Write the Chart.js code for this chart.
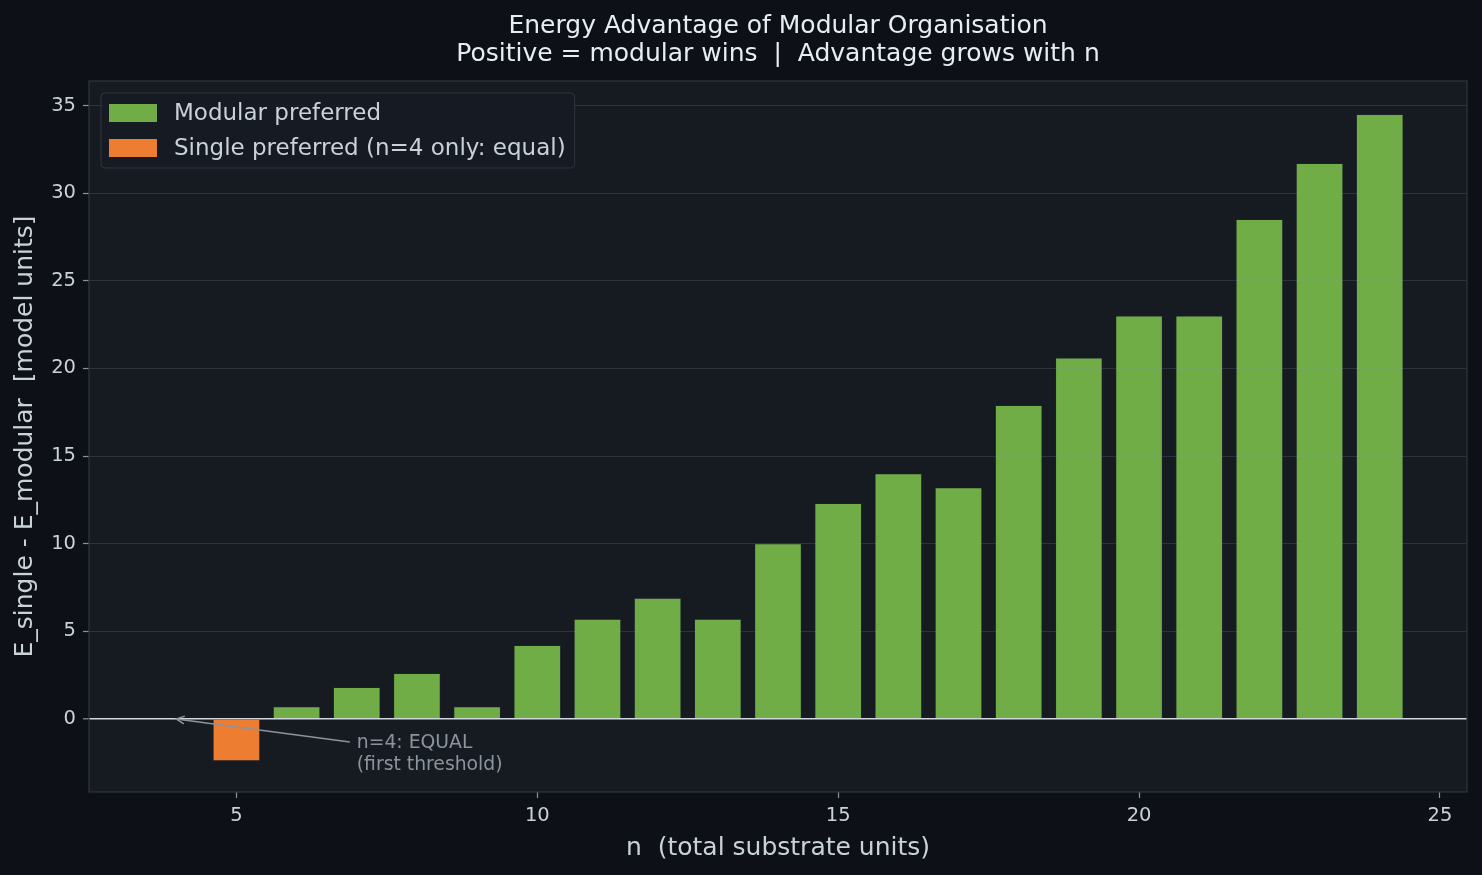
<!DOCTYPE html>
<html>
<head>
<meta charset="utf-8">
<script src="https://cdn.jsdelivr.net/npm/chart.js@4"></script>
<style>
  html, body { margin: 0; padding: 0; background: #0d1117; }
  #wrap { width: 1482px; height: 875px; }
</style>
</head>
<body>
<div id="wrap"><canvas id="chart-advantage"></canvas></div>
<script>
// values
const nValues = [5, 6, 7, 8, 9, 10, 11, 12, 13, 14, 15, 16, 17, 18, 19, 20, 21, 22, 23, 24];
const advantage = [-2.4, 0.7, 1.8, 2.6, 0.7, 4.2, 5.7, 6.9, 5.7, 10.0, 12.3, 14.0, 13.2, 17.9, 20.6, 23.0, 23.0, 28.5, 31.7, 34.5];
const xTicks = [5, 10, 15, 20, 25];
const yTicks = [0, 5, 10, 15, 20, 25, 30, 35];
const titleLines = ["Energy Advantage of Modular Organisation", "Positive = modular wins  |  Advantage grows with n"];
const legendLabels = ["Modular preferred", "Single preferred (n=4 only: equal)"];
const annotationLines = ["n=4: EQUAL", "(first threshold)"];

const GREEN = "#70ad47";
const ORANGE = "#ed7d31";
const FONT = "'DejaVu Sans', sans-serif";

let modularData = [];
let singleData = [];
nValues.forEach(function (n, i) {
  if (advantage[i] > 0) modularData.push({ x: n, y: advantage[i] });
  else singleData.push({ x: n, y: advantage[i] });
});

// plot background, frame, title over the plot, legend box and the n=4 note
const decorPlugin = {
  id: "decor",
  beforeDatasetsDraw(chart) {
    const a = chart.chartArea;
    const c = chart.ctx;
    c.save();
    c.fillStyle = "#161b22";
    c.fillRect(a.left, a.top, a.right - a.left, a.bottom - a.top);
    c.restore();
  },
  afterDraw(chart) {
    const a = chart.chartArea;
    const c = chart.ctx;
    const xs = chart.scales.x;
    const ys = chart.scales.y;
    c.save();
    c.strokeStyle = "#30363d";
    c.lineWidth = 1.2;
    c.strokeRect(a.left, a.top, a.right - a.left, a.bottom - a.top);

    // title, centred on the plot area
    c.fillStyle = "#e6edf3";
    c.font = "25px " + FONT;
    c.textAlign = "center";
    c.textBaseline = "middle";
    let mid = (a.left + a.right) / 2;
    c.fillText(titleLines[0], mid, a.top - 55);
    c.fillText(titleLines[1], mid, a.top - 27);

    // legend
    c.font = "23px " + FONT;
    let w = 0;
    legendLabels.forEach(function (t) { w = Math.max(w, c.measureText(t).width); });
    let lx = a.left + 12, ly = a.top + 12;
    let bw = w + 82, bh = 75;
    c.beginPath();
    c.roundRect(lx, ly, bw, bh, 4);
    c.fillStyle = "rgba(22,27,34,0.9)";
    c.fill();
    c.strokeStyle = "#30363d";
    c.lineWidth = 1;
    c.stroke();
    [GREEN, ORANGE].forEach(function (col, i) {
      let cy = ly + 20 + i * 35;
      c.fillStyle = col;
      c.fillRect(lx + 8, cy - 9, 48, 18);
      c.fillStyle = "#c9d1d9";
      c.textBaseline = "middle";
      c.textAlign = "left";
      c.fillText(legendLabels[i], lx + 73, cy + 1);
    });

    // annotation arrow
    let tx = xs.getPixelForValue(7.0);
    let ty = ys.getPixelForValue(-1.37);
    let hx = xs.getPixelForValue(4);
    let hy = ys.getPixelForValue(0);
    let sx = tx - 7, sy = ty - 1;
    c.strokeStyle = "#8b949e";
    c.lineWidth = 1.5;
    c.beginPath();
    c.moveTo(sx, sy);
    c.lineTo(hx, hy);
    c.stroke();
    let ang = Math.atan2(sy - hy, sx - hx);
    c.beginPath();
    c.moveTo(hx + 9 * Math.cos(ang + 0.45), hy + 9 * Math.sin(ang + 0.45));
    c.lineTo(hx, hy);
    c.lineTo(hx + 9 * Math.cos(ang - 0.45), hy + 9 * Math.sin(ang - 0.45));
    c.stroke();
    c.fillStyle = "#8b949e";
    c.font = "18.8px " + FONT;
    c.textBaseline = "middle";
    c.fillText(annotationLines[0], tx, ty);
    c.fillText(annotationLines[1], tx, ty + 22);
    c.restore();
  },
};

let ctx_adv = document.getElementById("chart-advantage").getContext("2d");
let chart_adv = new Chart(ctx_adv, {
  type: "bar",
  data: {
    datasets: [
      {
        label: legendLabels[0],
        data: modularData,
        backgroundColor: GREEN,
        borderColor: "#1c2128",
        borderWidth: 1,
        barThickness: 47,
        grouped: false,
      },
      {
        label: legendLabels[1],
        data: singleData,
        backgroundColor: ORANGE,
        borderColor: "#1c2128",
        borderWidth: 1,
        barThickness: 47,
        grouped: false,
      },
    ],
  },
  plugins: [decorPlugin],
  options: {
    responsive: true,
    maintainAspectRatio: false,
    animation: false,
    layout: { padding: { left: 0, right: 15, top: 81, bottom: 12 } },
    plugins: {
      legend: { display: false },
      tooltip: { enabled: false },
      title: { display: false },
    },
    scales: {
      x: {
        type: "linear",
        offset: false,
        min: 2.55,
        max: 25.45,
        afterBuildTicks(scale) {
          scale.ticks = xTicks.map(function (v) { return { value: v }; });
        },
        afterFit(scale) { scale.height = 71; },
        border: { display: false },
        grid: { offset: false, drawOnChartArea: false, drawTicks: true, tickLength: 6, tickColor: "#8b949e", tickWidth: 1.2 },
        ticks: { color: "#c9d1d9", font: { family: FONT, size: 19.5 }, padding: 6 },
        title: {
          display: true,
          text: "n  (total substrate units)",
          color: "#c9d1d9",
          font: { family: FONT, size: 25 },
          padding: { top: 4, bottom: 0 },
        },
      },
      y: {
        min: -4.17,
        max: 36.4,
        afterBuildTicks(scale) {
          scale.ticks = yTicks.map(function (v) { return { value: v }; });
        },
        afterFit(scale) { scale.width = 89; },
        border: { display: false },
        grid: {
          z: 1,
          color(ctx) { return ctx.tick && ctx.tick.value === 0 ? "#d0d7de" : "rgba(139,148,158,0.25)"; },
          lineWidth(ctx) { return ctx.tick && ctx.tick.value === 0 ? 1.6 : 0.8; },
          tickLength: 6,
          tickColor: "#8b949e",
          tickWidth: 1.2,
        },
        ticks: { color: "#c9d1d9", font: { family: FONT, size: 19.5 }, padding: 7 },
        title: {
          display: true,
          text: "E_single - E_modular  [model units]",
          color: "#c9d1d9",
          font: { family: FONT, size: 25 },
          padding: { top: 10, bottom: 0 },
        },
      },
    },
  },
});
</script>
</body>
</html>
